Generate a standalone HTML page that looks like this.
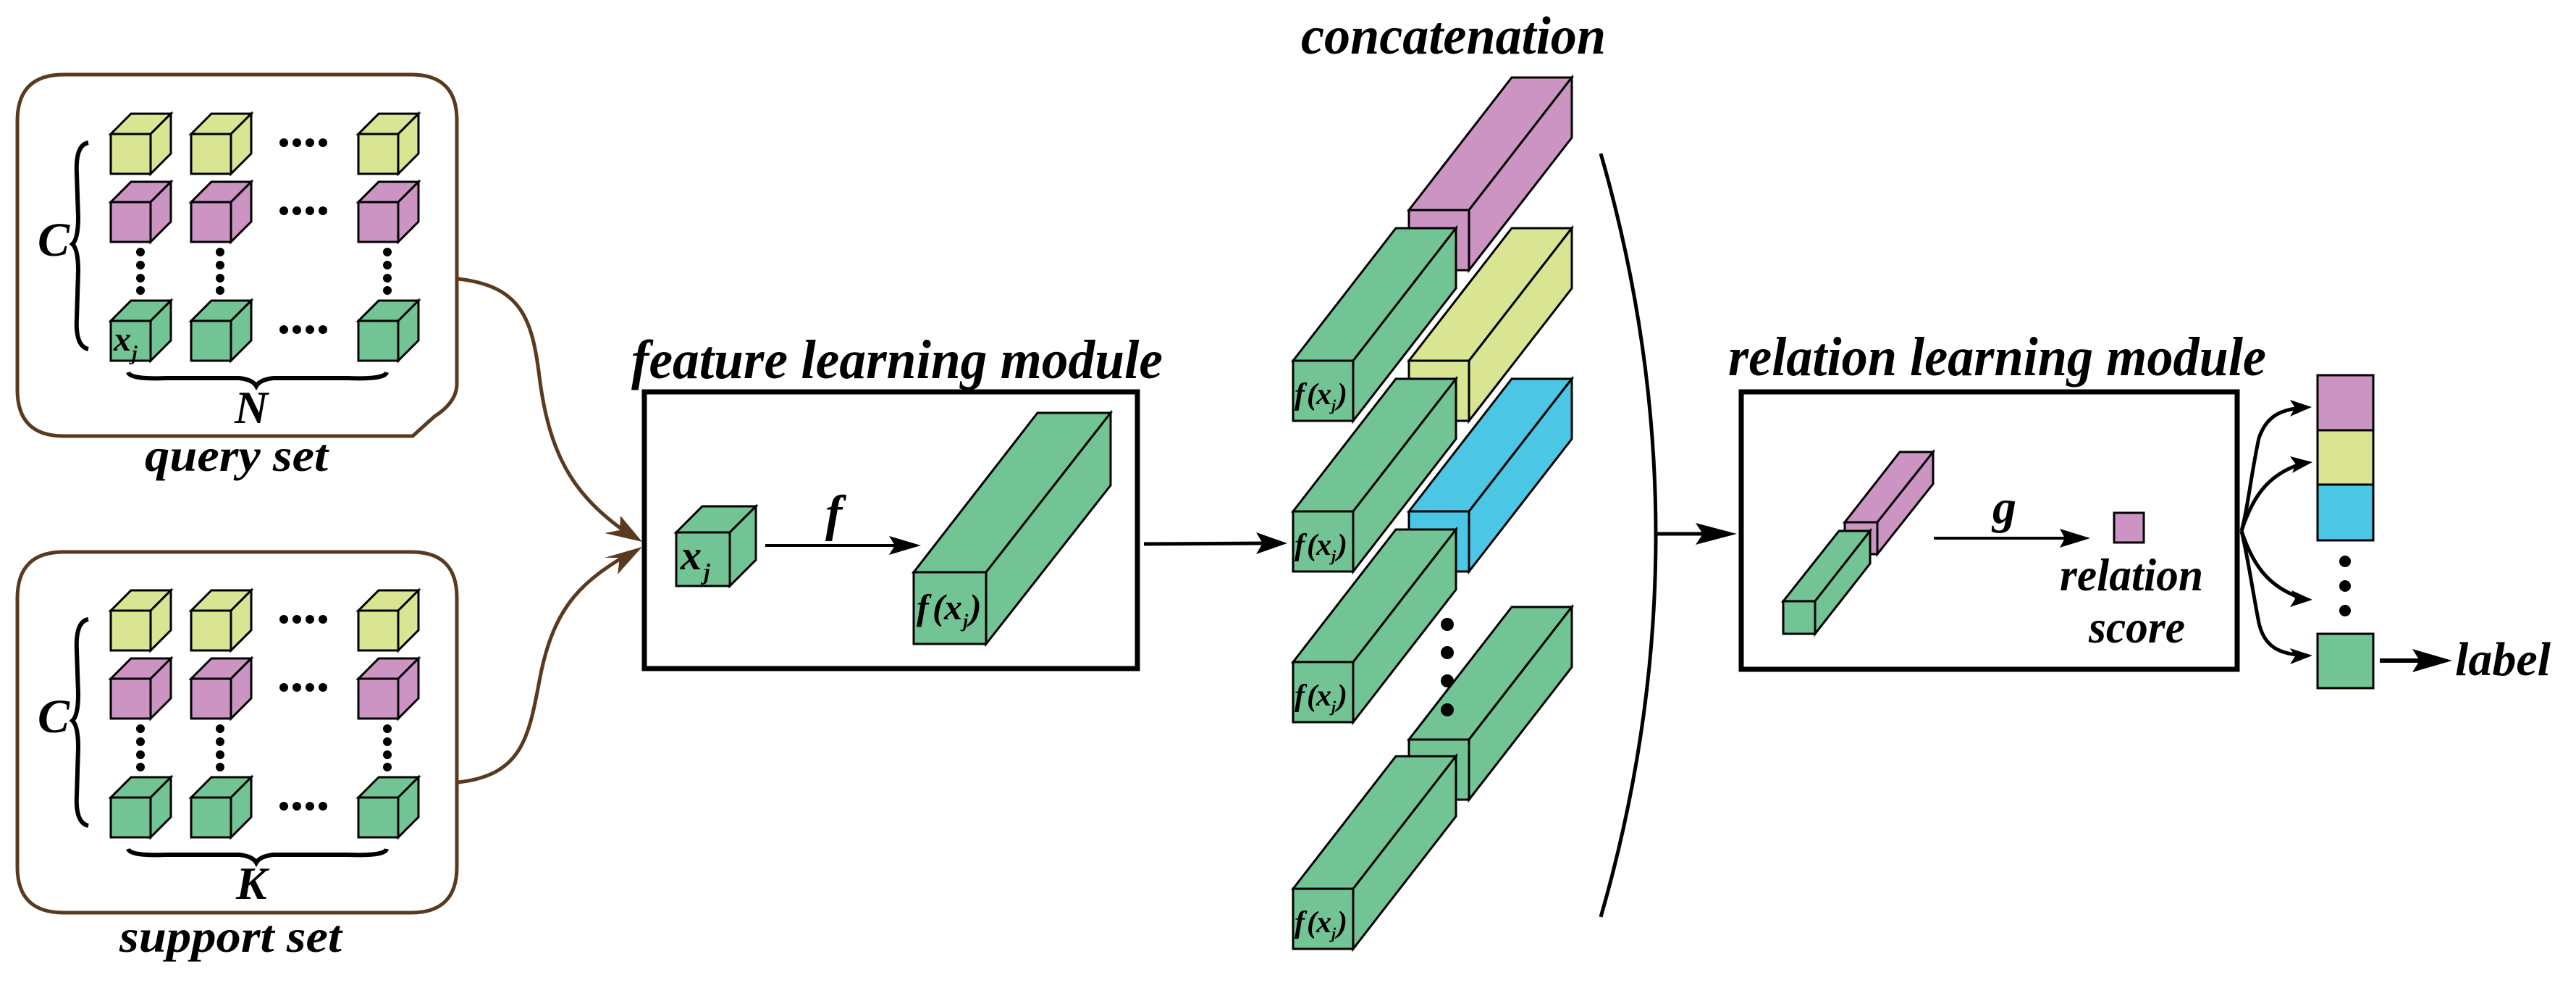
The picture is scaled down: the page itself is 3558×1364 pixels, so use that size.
<!DOCTYPE html>
<html><head><meta charset="utf-8"><style>
html,body{margin:0;padding:0;background:#fff}
svg{display:block}
text{font-family:"Liberation Serif","DejaVu Serif","Times New Roman",serif;font-weight:bold;font-style:italic;fill:#000}
</style></head><body>
<svg width="3558" height="1364" viewBox="0 0 3558 1364" xmlns="http://www.w3.org/2000/svg" font-family="Liberation Serif, DejaVu Serif, serif">
<defs>
<g id="cy" stroke="#000" stroke-width="3" fill="#d9e592">
<rect x="0" y="0" width="55" height="55"/><polygon points="0,0 28,-28 83,-28 55,0"/><polygon points="55,0 83,-28 83,27 55,55"/></g>
<g id="cp" stroke="#000" stroke-width="3" fill="#cb94c3">
<rect x="0" y="0" width="55" height="55"/><polygon points="0,0 28,-28 83,-28 55,0"/><polygon points="55,0 83,-28 83,27 55,55"/></g>
<g id="cg" stroke="#000" stroke-width="3" fill="#73c494">
<rect x="0" y="0" width="55" height="55"/><polygon points="0,0 28,-28 83,-28 55,0"/><polygon points="55,0 83,-28 83,27 55,55"/></g>
<g id="bg" stroke="#000" stroke-width="3" fill="#73c494">
<rect x="0" y="0" width="83" height="83"/><polygon points="0,0 142,-183 225,-183 83,0"/><polygon points="83,0 225,-183 225,-100 83,83"/></g>
<g id="bp" stroke="#000" stroke-width="3" fill="#cb94c3">
<rect x="0" y="0" width="83" height="83"/><polygon points="0,0 142,-183 225,-183 83,0"/><polygon points="83,0 225,-183 225,-100 83,83"/></g>
<g id="by" stroke="#000" stroke-width="3" fill="#d9e592">
<rect x="0" y="0" width="83" height="83"/><polygon points="0,0 142,-183 225,-183 83,0"/><polygon points="83,0 225,-183 225,-100 83,83"/></g>
<g id="bb" stroke="#000" stroke-width="3" fill="#4bc6e4">
<rect x="0" y="0" width="83" height="83"/><polygon points="0,0 142,-183 225,-183 83,0"/><polygon points="83,0 225,-183 225,-100 83,83"/></g>
<g id="hd" fill="#000"><circle cx="0" cy="0" r="6"/><circle cx="18" cy="0" r="6"/><circle cx="36" cy="0" r="6"/><circle cx="54" cy="0" r="6"/></g>
<g id="vd" fill="#000"><circle cx="0" cy="0" r="6"/><circle cx="0" cy="18" r="6"/><circle cx="0" cy="36" r="6"/><circle cx="0" cy="53" r="6"/></g>
</defs>

<path d="M88,103 H568 Q631,103 631,166 V530 Q631,555 600,575 L570,602 H88 Q24,602 24,538 V167 Q24,103 88,103 Z" fill="none" stroke="#5a3a1e" stroke-width="5"/>
<path d="M88,762 H568 Q631,762 631,825 V1197 Q631,1260 568,1260 H88 Q24,1260 24,1197 V826 Q24,762 88,762 Z" fill="none" stroke="#5a3a1e" stroke-width="5"/>

<use href="#cy" x="153" y="185"/><use href="#cy" x="264" y="185"/><use href="#cy" x="495" y="185"/>
<use href="#cp" x="153" y="279"/><use href="#cp" x="264" y="279"/><use href="#cp" x="495" y="279"/>
<use href="#cg" x="153" y="443"/><use href="#cg" x="264" y="443"/><use href="#cg" x="495" y="443"/>
<use href="#hd" x="392" y="197"/><use href="#hd" x="392" y="291"/><use href="#hd" x="392" y="455"/>
<use href="#vd" x="194" y="348"/><use href="#vd" x="304" y="348"/><use href="#vd" x="535" y="348"/>
<text x="157" y="484" font-size="48">x</text><text x="182" y="497" font-size="28">j</text>
<path d="M122,197 Q104,200 106,240 L108,300 Q108,330 100,337 Q108,344 108,374 L106,440 Q104,478 122,482" fill="none" stroke="#000" stroke-width="6"/>
<text x="52" y="353" font-size="66">C</text>
<path d="M177,514 Q180,524 230,522 L330,522 Q349,524 354,533 Q359,524 378,522 L480,522 Q532,524 534,514" fill="none" stroke="#000" stroke-width="6"/>
<text x="324" y="584" font-size="64">N</text>
<text x="200" y="650" font-size="64" textLength="253" lengthAdjust="spacingAndGlyphs">query set</text>

<use href="#cy" x="153" y="843"/><use href="#cy" x="264" y="843"/><use href="#cy" x="495" y="843"/>
<use href="#cp" x="153" y="937"/><use href="#cp" x="264" y="937"/><use href="#cp" x="495" y="937"/>
<use href="#cg" x="153" y="1101"/><use href="#cg" x="264" y="1101"/><use href="#cg" x="495" y="1101"/>
<use href="#hd" x="392" y="855"/><use href="#hd" x="392" y="949"/><use href="#hd" x="392" y="1113"/>
<use href="#vd" x="194" y="1006"/><use href="#vd" x="304" y="1006"/><use href="#vd" x="535" y="1006"/>
<path d="M122,855 Q104,858 106,898 L108,958 Q108,988 100,995 Q108,1002 108,1032 L106,1098 Q104,1136 122,1140" fill="none" stroke="#000" stroke-width="6"/>
<text x="52" y="1011" font-size="66">C</text>
<path d="M177,1172 Q180,1182 230,1180 L330,1180 Q349,1182 354,1191 Q359,1182 378,1180 L480,1180 Q532,1182 534,1172" fill="none" stroke="#000" stroke-width="6"/>
<text x="326" y="1241" font-size="64">K</text>
<text x="165" y="1314" font-size="64" textLength="307" lengthAdjust="spacingAndGlyphs">support set</text>

<path d="M633,385 C720,395 735,440 745,520 C760,640 800,690 872,740" fill="none" stroke="#5a3a1e" stroke-width="5"/>
<path d="M633,1080 C720,1070 730,1020 745,940 C765,830 810,800 872,762" fill="none" stroke="#5a3a1e" stroke-width="5"/>
<polygon points="887,748 835,736 856,732 857,712" fill="#5a3a1e"/>
<polygon points="887,755 835,770 856,770 853,793" fill="#5a3a1e"/>

<text x="872" y="522" font-size="76" textLength="734" lengthAdjust="spacingAndGlyphs">feature learning module</text>
<rect x="890" y="541" width="681" height="382" fill="none" stroke="#000" stroke-width="7"/>
<g stroke="#000" stroke-width="3" fill="#73c494">
<rect x="934" y="735" width="74" height="74"/><polygon points="934,735 970,699 1044,699 1008,735"/><polygon points="1008,735 1044,699 1044,773 1008,809"/>
</g>
<text x="940" y="786" font-size="58">x</text><text x="972" y="800" font-size="32">j</text>
<line x1="1057" y1="753" x2="1245" y2="753" stroke="#000" stroke-width="4"/>
<polygon points="1272,753 1228,740 1236,753 1228,766" fill="#000"/>
<text x="1140" y="732" font-size="70">f</text>
<g stroke="#000" stroke-width="3" fill="#73c494">
<rect x="1262" y="790" width="100" height="99"/><polygon points="1262,790 1433,570 1534,570 1362,790"/><polygon points="1362,790 1534,570 1534,670 1362,889"/>
</g>
<text x="1266" y="855" font-size="50">f</text><text x="1288" y="855" font-size="50" font-style="normal" font-weight="normal">(</text><text x="1304" y="855" font-size="50">x</text><text x="1330" y="866" font-size="26">j</text><text x="1339" y="855" font-size="50" font-style="normal" font-weight="normal">)</text>
<line x1="1580" y1="751" x2="1750" y2="750" stroke="#000" stroke-width="5"/>
<polygon points="1778,750 1735,735 1744,750 1735,765" fill="#000"/>

<text x="1797" y="74" font-size="74" textLength="421" lengthAdjust="spacingAndGlyphs">concatenation</text>
<use href="#bp" x="1946" y="290"/>
<use href="#bg" x="1786" y="498"/>
<use href="#by" x="1946" y="498"/>
<use href="#bg" x="1786" y="706"/>
<use href="#bb" x="1946" y="706"/>
<use href="#bg" x="1786" y="914"/>
<use href="#bg" x="1946" y="1021"/>
<use href="#bg" x="1786" y="1227"/>
<g fill="#000"><circle cx="1999" cy="862" r="9"/><circle cx="1999" cy="901" r="9"/><circle cx="1999" cy="940" r="9"/><circle cx="1999" cy="980" r="9"/></g>
<g id="fx"><text x="1788" y="558" font-size="42">f</text><text x="1805" y="558" font-size="42" font-style="normal" font-weight="normal">(</text><text x="1818" y="558" font-size="42">x</text><text x="1839" y="567" font-size="22">j</text><text x="1847" y="558" font-size="42" font-style="normal" font-weight="normal">)</text></g>
<use href="#fx" x="0" y="208"/>
<use href="#fx" x="0" y="416"/>
<use href="#fx" x="0" y="729"/>

<path d="M2211,212 Q2363,739 2211,1266" fill="none" stroke="#000" stroke-width="5"/>
<line x1="2288" y1="737" x2="2375" y2="737" stroke="#000" stroke-width="5"/>
<polygon points="2399,737 2342,722 2352,737 2342,752" fill="#000"/>

<text x="2387" y="518" font-size="76" textLength="743" lengthAdjust="spacingAndGlyphs">relation learning module</text>
<rect x="2405" y="541" width="685" height="383" fill="none" stroke="#000" stroke-width="7"/>
<g stroke="#000" stroke-width="3" fill="#cb94c3">
<rect x="2548" y="721" width="45" height="44"/><polygon points="2548,721 2624,624 2670,624 2593,721"/><polygon points="2593,721 2670,624 2670,668 2593,765"/>
</g>
<g stroke="#000" stroke-width="3" fill="#73c494">
<rect x="2463" y="830" width="44" height="45"/><polygon points="2463,830 2540,733 2583,733 2507,830"/><polygon points="2507,830 2583,733 2583,778 2507,875"/>
</g>
<line x1="2671" y1="743" x2="2865" y2="743" stroke="#000" stroke-width="4"/>
<polygon points="2887,743 2845,730 2852,743 2845,756" fill="#000"/>
<text x="2752" y="722" font-size="66">g</text>
<rect x="2920" y="708" width="41" height="41" fill="#cb94c3" stroke="#000" stroke-width="3"/>
<text x="2845" y="815" font-size="64" textLength="198" lengthAdjust="spacingAndGlyphs">relation</text>
<text x="2885" y="887" font-size="64" textLength="133" lengthAdjust="spacingAndGlyphs">score</text>

<g stroke="#000" stroke-width="3">
<rect x="3201" y="518" width="77" height="76" fill="#cb94c3"/>
<rect x="3201" y="594" width="77" height="75" fill="#d9e592"/>
<rect x="3201" y="669" width="77" height="77" fill="#4bc6e4"/>
<rect x="3201" y="875" width="77" height="75" fill="#73c494"/>
</g>
<g fill="#000"><circle cx="3239" cy="775" r="8"/><circle cx="3239" cy="809" r="8"/><circle cx="3239" cy="843" r="8"/></g>
<g fill="none" stroke="#000" stroke-width="5">
<path d="M3096,733 C3105,700 3110,650 3120,605 C3130,575 3150,565 3180,563"/>
<path d="M3096,733 C3110,690 3130,655 3180,640"/>
<path d="M3096,733 C3110,775 3130,810 3180,826"/>
<path d="M3096,733 C3105,770 3112,820 3120,860 C3128,895 3150,902 3180,905"/>
</g>
<polygon points="3193,562 3163,552 3170,563 3163,575" fill="#000"/>
<polygon points="3194,638 3163,630 3171,641 3166,653" fill="#000"/>
<polygon points="3194,828 3165,815 3170,827 3163,838" fill="#000"/>
<polygon points="3194,905 3163,895 3170,906 3163,917" fill="#000"/>
<line x1="3287" y1="912" x2="3360" y2="912" stroke="#000" stroke-width="6"/>
<polygon points="3387,912 3332,896 3342,912 3332,928" fill="#000"/>
<text x="3391" y="932" font-size="66" textLength="132" lengthAdjust="spacingAndGlyphs">label</text>
</svg>
</body></html>
